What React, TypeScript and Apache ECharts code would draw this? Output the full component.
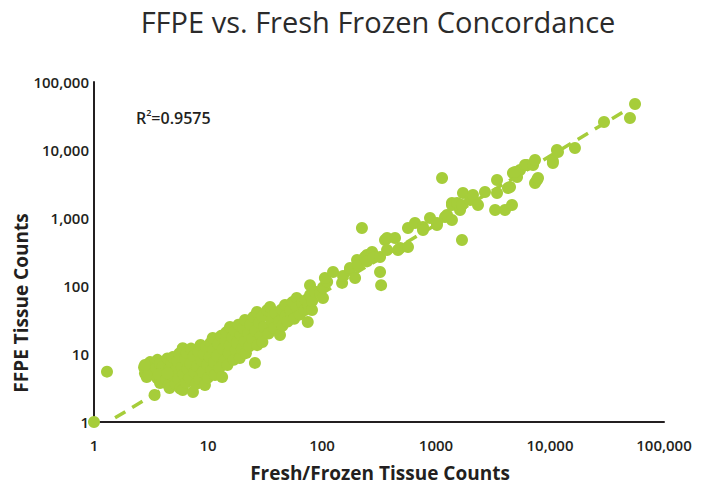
import React, { useEffect, useRef } from "react";
import * as echarts from "echarts";

const TITLE = "FFPE vs. Fresh Frozen Concordance";
const X_NAME = "Fresh/Frozen Tissue Counts";
const Y_NAME = "FFPE Tissue Counts";
const R2_VALUE = "0.9575";

const xTickLabels = ["1", "10", "100", "1000", "10,000", "100,000"];
const yTickLabels = ["1", "10", "100", "1,000", "10,000", "100,000"];

// dashed fit line end points
const trendLine = [
  [1.53, 1.15],
  [45500, 37500],
];

const originPoints = [
  [1, 1],
  [1.3, 5.5],
];

const clusterPoints = [
  [2.75, 6.4], [2.8, 5.2], [2.9, 4.6], [3.0, 7.0], [3.1, 7.6], [3.1, 5.8], [3.0, 4.9], [2.8, 6.9],
  [3.4, 2.5], [3.5, 6.2], [3.6, 8.2], [3.6, 4.4], [3.8, 3.75], [3.8, 7.1], [3.9, 5.3], [4.0, 6.5], [3.7, 5.0],
  [4.3, 4.2], [4.4, 8.6], [4.5, 3.5], [4.6, 3.16], [4.6, 6.0], [4.8, 7.4], [4.9, 9.0], [4.9, 4.8], [5.1, 5.6], [5.2, 3.6], [4.4, 5.2],
  [5.4, 7.8], [5.5, 4.3], [5.6, 10.2], [5.7, 3.1], [5.9, 6.4], [6.0, 12.2], [6.0, 2.96], [6.1, 5.0], [6.3, 8.3], [6.4, 3.8], [6.5, 10.5], [6.6, 6.0],
  [6.9, 4.4], [7.0, 7.2], [7.1, 12.0], [7.38, 2.76], [7.5, 9.3], [7.6, 5.3], [7.8, 3.6], [8.0, 6.6], [8.2, 11.0], [8.4, 4.3], [8.6, 13.6], [8.7, 8.0],
  [9.0, 5.4], [9.2, 10.0], [9.4, 3.5], [9.6, 12.8], [9.8, 7.0], [10.0, 4.5], [10.3, 9.0], [10.5, 14.5], [10.7, 5.8], [11.0, 17.2], [11.1, 11.5], [11.3, 7.6], [11.5, 4.9],
  [12.0, 9.5], [12.3, 14.0], [12.6, 6.2], [13.0, 18.5], [13.3, 4.6], [13.5, 11.8], [13.8, 8.0], [14.2, 15.5], [14.5, 21.0], [14.8, 6.9], [15.2, 10.3], [15.6, 25.0], [15.5, 13.5],
  [16.3, 17.5], [16.8, 8.2], [17.2, 22.0], [17.5, 11.5], [18.0, 14.5], [18.5, 27.0], [19.0, 8.7], [19.3, 19.0], [19.8, 11.8], [20.3, 24.0], [21.1, 31.6], [21.0, 15.5], [21.5, 10.3],
  [22.5, 20.0], [23.0, 13.0], [23.5, 27.0], [24.5, 17.0], [25.0, 35.0], [25.8, 7.4], [26.0, 22.0], [26.9, 41.5], [27.0, 13.5], [28.0, 29.0], [29.0, 18.5], [30.0, 15.0], [30.0, 36.0], [31.0, 25.0],
  [33.0, 44.0], [34.0, 20.0], [35.0, 49.0], [36.0, 31.0], [38.0, 24.0], [39.0, 40.0], [42.8, 19.0], [42.0, 30.0], [44.0, 45.0], [45.0, 26.0], [47.4, 52.6], [48.0, 36.0], [50.0, 30.0],
  [53.0, 44.0], [55.0, 58.0], [57.0, 33.0], [60.0, 66.6], [60.0, 48.0], [64.0, 38.0], [67.0, 56.0], [70.0, 44.0], [72.0, 62.0], [75.0, 29.6], [76.0, 52.0], [78.5, 73.8], [81.7, 44.4], [82.0, 60.0],
];

const midBandPoints = [
  [78.5, 103], [87, 82], [96, 79], [102, 66.6], [102, 95], [111, 115], [106, 131], [125, 161], [150, 111], [153, 140],
  [176, 172], [176, 184], [195, 131], [203, 241], [207, 200], [238, 267], [248, 286], [248, 230], [275, 316], [280, 260],
  [323, 267], [323, 161], [330, 103], [357, 475], [372, 338], [372, 508], [437, 508], [464, 338], [484, 362], [568, 375],
  [568, 713], [654, 844], [769, 738], [769, 666], [886, 1000], [1020, 844], [1020, 789],
];

const highBandPoints = [
  [1200, 1035], [1250, 1107], [1380, 1660], [1380, 1555], [1380, 935], [1530, 1660], [1625, 1310], [1690, 1555],
  [1725, 2330], [1990, 1840], [2110, 2180], [2335, 1555], [2690, 2410], [3430, 3620], [3430, 2330], [3300, 1310],
  [4030, 1310], [4640, 1555], [4280, 2760], [4460, 2860], [4730, 4590], [5140, 4010], [5460, 5080], [6040, 6010],
  [6280, 6010], [4930, 4750], [7100, 6010], [7390, 7120], [7390, 3270], [7690, 3620], [7850, 3870], [10600, 6440],
  [10600, 6890], [11500, 10000], [11750, 9350], [16550, 10700], [29770, 25800], [50300, 29550], [55700, 47500],
];

const outlierPoints = [
  [1130, 3870],
  [1690, 475],
  [224, 713],
];

const GREEN = "#a6cd3a";
const INK = "#231f20";
const FONT = "'Open Sans', 'Noto Sans', sans-serif";

function tickText(labels: string[], v: number) {
  const i = Math.round(Math.log10(v));
  return labels[i] ?? "";
}

export default function App() {
  const ref = useRef<HTMLDivElement>(null);
  useEffect(() => {
    document.body.style.margin = "0";
    if (!ref.current) return;
    const chart = echarts.init(ref.current, undefined, { renderer: "svg" });
    const allPoints = [
      ...originPoints,
      ...clusterPoints,
      ...midBandPoints,
      ...highBandPoints,
      ...outlierPoints,
    ];
    chart.setOption({
      animation: false,
      backgroundColor: "#ffffff",
      grid: { left: 94, right: 53, top: 82, bottom: 67, containLabel: false },
      xAxis: {
        type: "log",
        logBase: 10,
        min: 1,
        max: 100000,
        axisLine: { show: true, onZero: false, lineStyle: { color: INK, width: 2 } },
        axisTick: { show: false },
        splitLine: { show: false },
        minorTick: { show: false },
        axisLabel: {
          formatter: (v: number) => tickText(xTickLabels, v),
          fontSize: 15,
          fontWeight: 600,
          color: INK,
          margin: 15,
          fontFamily: FONT,
        },
      },
      yAxis: {
        type: "log",
        logBase: 10,
        min: 1,
        max: 100000,
        axisLine: { show: true, onZero: false, lineStyle: { color: INK, width: 2 } },
        axisTick: { show: false },
        splitLine: { show: false },
        axisLabel: {
          formatter: (v: number) => tickText(yTickLabels, v),
          fontSize: 15,
          fontWeight: 600,
          color: INK,
          margin: 5,
          fontFamily: FONT,
        },
      },
      graphic: [
        {
          type: "text",
          x: 378,
          y: 21,
          style: {
            text: TITLE,
            fontSize: 29,
            fontWeight: 500,
            fontFamily: FONT,
            fill: "#2b2b2b",
            textAlign: "center",
            textVerticalAlign: "middle",
          },
        },
        {
          type: "text",
          x: 380,
          y: 473,
          style: {
            text: X_NAME,
            fontSize: 19,
            fontWeight: "bold",
            fontFamily: FONT,
            fill: INK,
            textAlign: "center",
            textVerticalAlign: "middle",
          },
        },
        {
          type: "text",
          x: 21,
          y: 303,
          rotation: Math.PI / 2,
          style: {
            text: Y_NAME,
            fontSize: 19,
            fontWeight: "bold",
            fontFamily: FONT,
            fill: INK,
            textAlign: "center",
            textVerticalAlign: "middle",
          },
        },
        {
          type: "text",
          x: 136,
          y: 117,
          style: {
            text: "{a|R}{b|2}{a|=" + R2_VALUE + "}",
            fontFamily: FONT,
            fill: INK,
            textAlign: "left",
            textVerticalAlign: "middle",
            rich: {
              a: { fontSize: 16, fontWeight: 600, fontFamily: FONT, fill: INK, color: INK, verticalAlign: "bottom", lineHeight: 18 },
              b: { fontSize: 9, fontWeight: 600, fontFamily: FONT, fill: INK, color: INK, verticalAlign: "top", lineHeight: 18 },
            },
          },
        },
      ],
      series: [
        {
          type: "line",
          data: trendLine,
          showSymbol: false,
          symbol: "none",
          silent: true,
          z: 1,
          lineStyle: { color: GREEN, width: 3.5, type: [12, 8] },
        },
        {
          type: "scatter",
          data: allPoints,
          symbol: "circle",
          symbolSize: 12,
          clip: false,
          z: 2,
          itemStyle: { color: GREEN, opacity: 1 },
        },
      ],
    });
    return () => chart.dispose();
  }, []);
  return <div ref={ref} style={{ width: 717, height: 489 }} />;
}
